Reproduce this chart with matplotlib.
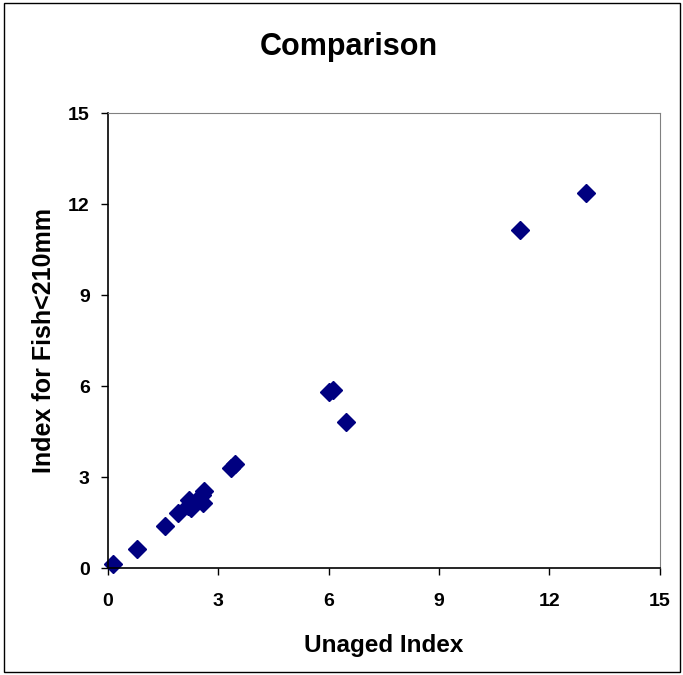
import numpy as np
import matplotlib.pyplot as plt
from matplotlib.patches import Rectangle

plt.rcParams['font.family'] = ['Liberation Sans', 'DejaVu Sans']

unaged = [0.14, 0.78, 1.56, 1.91, 2.21, 2.25, 2.18, 2.55, 2.62, 2.59,
          3.35, 3.45, 6.02, 6.12, 6.46, 11.21, 13.0]
small_fish = [0.13, 0.62, 1.38, 1.82, 2.24, 1.97, 2.05, 2.4, 2.53, 2.15,
              3.3, 3.42, 5.8, 5.88, 4.8, 11.13, 12.37]
ticks = [0, 3, 6, 9, 12, 15]

fig = plt.figure(figsize=(6.83, 6.75), dpi=100)
ax = fig.add_axes([0.158, 0.1585, 0.808, 0.674])

ax.plot(unaged, small_fish, linestyle='none', marker='D', markersize=9,
        color='#000080', clip_on=False)

ax.set_xlim(0, 15)
ax.set_ylim(0, 15)
ax.set_xticks(ticks)
ax.set_yticks(ticks)
ax.tick_params(direction='out', length=5, width=1, labelsize=14)
ax.tick_params(axis='x', pad=13)
ax.tick_params(axis='y', pad=8)
for lab in ax.get_xticklabels() + ax.get_yticklabels():
    lab.set_fontweight('bold')

for side in ['top', 'right']:
    ax.spines[side].set_color('#808080')
for side in ['left', 'bottom']:
    ax.spines[side].set_color('black')
    ax.spines[side].set_linewidth(1.2)

ax.set_xlabel('Unaged Index', fontsize=17.5, fontweight='bold', labelpad=17)
ax.set_ylabel('Index for Fish<210mm', fontsize=18, fontweight='bold', labelpad=9)
fig.text(0.511, 0.9185, 'Comparison', ha='center', va='baseline',
         fontsize=22, fontweight='bold')

fig.patches.append(Rectangle((0.006, 0.004), 0.99, 0.992, transform=fig.transFigure,
                             fill=False, edgecolor='black', linewidth=1))

fig.savefig('out.png', dpi=100)
